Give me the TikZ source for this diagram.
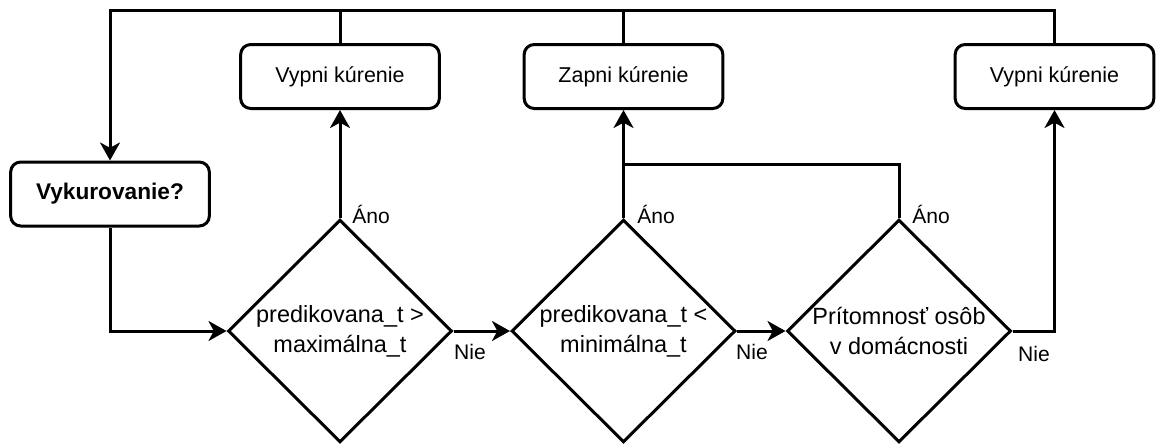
\documentclass[tikz,border=0pt]{standalone}
\usepackage{fontspec}
\setmainfont{Liberation Sans}
\usetikzlibrary{shapes.geometric,arrows.meta}
\begin{document}
\begin{tikzpicture}[x=0.75pt,y=-0.75pt, line width=2.25pt,
  box/.style={draw, rounded corners=7.5pt, minimum width=149pt, minimum height=48pt, inner sep=0pt, font=\fontsize{16.1}{19}\selectfont},
  dia/.style={draw, diamond, minimum width=168pt, minimum height=167pt, inner sep=0pt},
  dtext/.style={align=center, inner sep=0pt, font=\fontsize{17.6}{22.5}\selectfont},
  lbl/.style={inner sep=0pt, font=\fontsize{15.8}{18}\selectfont},
  arr/.style={-{Stealth[length=13.5pt,width=15pt,inset=4pt]}}]
\useasboundingbox (0,0) rectangle (1157,446);

\node[box, font=\fontsize{17}{20}\selectfont\bfseries] (vyk) at (110,194) {Vykurovanie?};
\node[box] (b1) at (340,76.5) {Vypni kúrenie};
\node[box] (b2) at (623.5,76.5) {Zapni kúrenie};
\node[box] (b3) at (1054.5,76.5) {Vypni kúrenie};

\node[dia] (d1) at (340,331) {};
\node[dtext] (t1) at (d1) {predikovana\_t >\\maximálna\_t};
\node[dia] (d2) at (623.5,331) {};
\node[dtext] (t2) at (d2) {predikovana\_t <\\minimálna\_t};
\node[dia] (d3) at (899,331) {};
\node[dtext] (t3) at (d3) {Prítomnosť osôb\\v domácnosti};

\coordinate (T) at (110,10);
\coordinate (Jy) at (0,164);
\coordinate (J) at (d2.north |- Jy);

\draw[arr] (b3.north) -- (b3.north |- T) -- (T) -- (vyk.north);
\draw (b1.north) -- (b1.north |- T);
\draw (b2.north) -- (b2.north |- T);

\draw[arr] (vyk.south) |- (d1.west);
\draw[arr] (d1.north) -- (b1.south);
\draw[arr] (d1.east) -- (d2.west);
\draw[arr] (d2.north) -- (b2.south);
\draw[arr] (d2.east) -- (d3.west);
\draw (d3.north) |- (J);
\draw[arr] (d3.east) -| (b3.south);

\node[lbl] (a1) at (371,214) {Áno};
\node[lbl] (a2) at (656,214) {Áno};
\node[lbl] (a3) at (931,214) {Áno};
\node[lbl] (n1) at (470,352) {Nie};
\node[lbl] (n2) at (752,352) {Nie};
\node[lbl] (n3) at (1034,354) {Nie};
\end{tikzpicture}
\end{document}
